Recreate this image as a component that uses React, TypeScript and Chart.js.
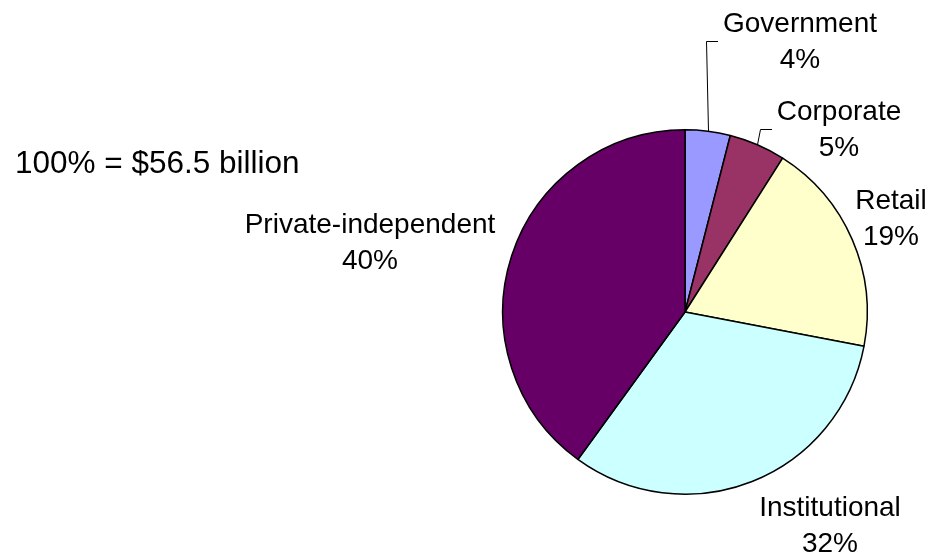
import React, { useEffect, useRef } from "react";
import { Chart, registerables } from "chart.js";

Chart.register(...registerables);

const categories = ["Government", "Corporate", "Retail", "Institutional", "Private-independent"];
const shares = [4, 5, 19, 32, 40];
const sliceColors = ["#9999FF", "#993366", "#FFFFCC", "#CCFFFF", "#660066"];
const totalNote = "100% = $56.5 billion";

// label placement (centre x, first-line baseline) and whether a leader line is drawn
const labelLayout = [
  { x: 800, y: 32, leader: true },
  { x: 839, y: 120, leader: true },
  { x: 891, y: 209, leader: false },
  { x: 830, y: 516, leader: false },
  { x: 370, y: 233, leader: false },
];

const FONT = '"Liberation Sans", Arial, sans-serif';

const labelPlugin = {
  id: "pieLabels",
  afterDraw(chart: any) {
    const ctx = chart.ctx;
    const meta = chart.getDatasetMeta(0);
    ctx.save();
    ctx.fillStyle = "#000";
    ctx.textBaseline = "alphabetic";

    // note
    ctx.font = `31.5px ${FONT}`;
    ctx.textAlign = "left";
    ctx.fillText(totalNote, 15, 173);

    ctx.font = `28px ${FONT}`;
    meta.data.forEach((arc: any, i: number) => {
      const lay = labelLayout[i];
      const line1 = categories[i];
      const line2 = `${shares[i]}%`;
      ctx.textAlign = "center";
      ctx.fillText(line1, lay.x, lay.y);
      ctx.fillText(line2, lay.x, lay.y + 36);
      if (lay.leader) {
        const p = arc.getProps(["x", "y", "startAngle", "endAngle", "outerRadius"], true);
        const mid = (p.startAngle + p.endAngle) / 2;
        const ex = Math.round(p.x + Math.cos(mid) * p.outerRadius) + 0.5;
        const ey = p.y + Math.sin(mid) * p.outerRadius;
        const w = ctx.measureText(line1).width;
        const left = Math.round(lay.x - w / 2 - 5);
        const midY = lay.y + 9.5;
        ctx.beginPath();
        ctx.strokeStyle = "#000";
        ctx.lineWidth = 1;
        ctx.moveTo(left, midY);
        ctx.lineTo(left - 11.5, midY);
        ctx.lineTo(ex, ey);
        ctx.stroke();
      }
    });
    ctx.restore();
  },
};

export default function App() {
  const ref = useRef<HTMLCanvasElement | null>(null);
  useEffect(() => {
    if (!ref.current) return;
    const chart = new Chart(ref.current, {
      type: "pie",
      data: {
        labels: categories,
        datasets: [
          {
            data: shares,
            backgroundColor: sliceColors,
            borderColor: "#000000",
            borderWidth: 1.5,
          },
        ],
      },
      options: {
        responsive: false,
        animation: false,
        layout: { padding: { left: 502, right: 64, top: 129, bottom: 59 } },
        plugins: {
          legend: { display: false },
          tooltip: { enabled: false },
        },
      },
      plugins: [labelPlugin],
    });
    return () => chart.destroy();
  }, []);
  return (
    <div style={{ position: "absolute", left: 0, top: 0, width: 932, height: 554, background: "#fff" }}>
      <canvas ref={ref} width={932} height={554} style={{ display: "block" }} />
    </div>
  );
}
